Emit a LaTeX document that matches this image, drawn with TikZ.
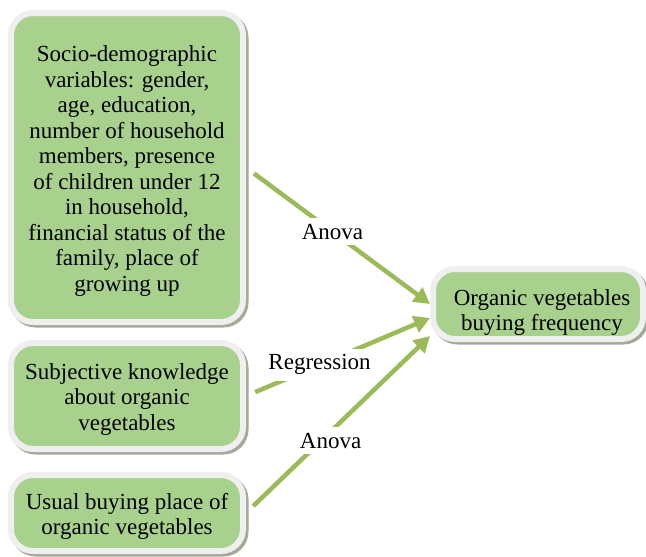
\documentclass[tikz,border=0pt]{standalone}
\usepackage{fontspec}
\setmainfont{Liberation Serif}
\usetikzlibrary{arrows.meta,shadows}
\definecolor{boxgreen}{HTML}{A9D18E}
\definecolor{framegray}{HTML}{EFEFEF}
\definecolor{shadegray}{HTML}{A4AA98}
\definecolor{arrowgreen}{HTML}{9BBB59}
% text block lowered a little inside its box
\newcommand{\boxtext}[3]{\raisebox{-#1}[0pt][0pt]{\parbox{#2}{\centering #3}}}
\begin{document}
\begin{tikzpicture}[x=1pt,y=-1pt,
  box/.style={draw=framegray, line width=6pt, fill=boxgreen, rounded corners=22pt,
    inner sep=0pt, font=\fontsize{23}{25.5}\selectfont,
    drop shadow={shadow xshift=2.5pt, shadow yshift=-2.5pt, fill=shadegray, draw=shadegray, opacity=1}},
  link/.style={draw=arrowgreen, line width=4.5pt, shorten <=10pt,
    -{Triangle[length=16pt,width=17pt]}},
  lbl/.style={fill=white, inner sep=6pt, font=\fontsize{23}{25}\selectfont}]
\useasboundingbox (0,0) rectangle (646,557);
\node[box, minimum width=232pt, minimum height=309pt] (socio) at (127,167.5)
  {\boxtext{9.5pt}{222pt}{Socio-demographic\\variables: gender,\\age, education,\\number of household\\members, presence\\of children under 12\\in household,\\financial status of the\\family, place of\\growing up}};
\node[box, minimum width=232pt, minimum height=106pt] (know) at (127,396)
  {\boxtext{9.5pt}{222pt}{Subjective knowledge\\about organic\\vegetables}};
\node[box, minimum width=232pt, minimum height=76pt] (place) at (127,513)
  {\boxtext{9.5pt}{222pt}{Usual buying place of\\organic vegetables}};
\node[box, minimum width=210pt, minimum height=70pt] (freq) at (538,304)
  {\boxtext{14.5pt}{200pt}{\hspace*{8pt}Organic vegetables\\\hspace*{8pt}buying frequency}};
\draw[link] (socio.east) -- node[lbl, pos=.47] {Anova} (freq.west);
\draw[link] (know.east) -- node[lbl, pos=.4] {Regression} ([yshift=-14pt]freq.west);
\draw[link] (place.east) -- node[lbl, pos=.46, yshift=-9pt] {Anova} ([yshift=-32pt]freq.west);
\end{tikzpicture}
\end{document}
